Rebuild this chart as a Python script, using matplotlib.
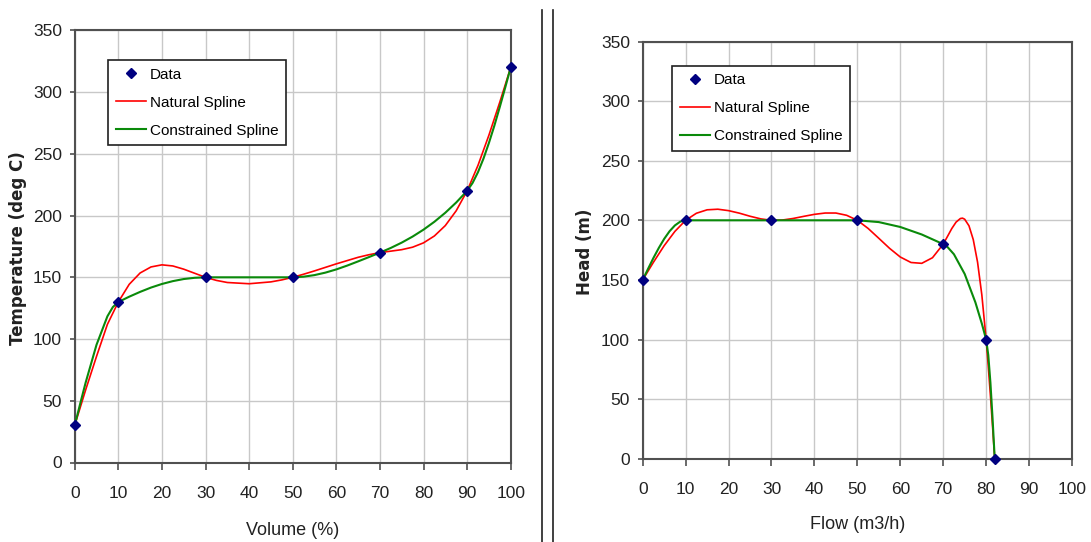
import matplotlib
matplotlib.use("Agg")
import matplotlib.pyplot as plt
from matplotlib import font_manager
from matplotlib.lines import Line2D

# ---------------- data ----------------
vol_data = [0, 10, 30, 50, 70, 90, 100]
temp_data = [30, 130, 150, 150, 170, 220, 320]

vol_nat = [0, 2.5, 5, 7.5, 10, 12.5, 15, 17.5, 20, 22.5, 25, 27.5, 30, 32.5, 35, 40, 45, 47.5,
           50, 52.5, 55, 60, 65, 67.5, 70, 72.5, 75, 77.5, 80, 82.5, 85, 87.5, 90, 92.5, 95, 97.5, 100]
temp_nat = [30, 58.7, 85.9, 111.9, 130, 144.3, 153.5, 158.4, 160.1, 159.2, 156.6, 153.3, 150, 147.5, 145.8,
            144.8, 146.3, 147.9, 150, 152.5, 155.2, 160.9, 166.2, 168.3, 170, 171.2, 172.4, 174.4, 177.9,
            183.5, 191.9, 203.9, 220, 240.7, 265.1, 291.9, 320]

vol_con = [0, 1.25, 2.5, 5, 7.5, 8.75, 10, 12.5, 15, 17.5, 20, 22.5, 25, 27.5, 30, 40, 50, 52.5, 55,
           57.5, 60, 62.5, 65, 67.5, 70, 72.5, 75, 77.5, 80, 82.5, 85, 87.5, 90, 91.25, 92.5, 93.75, 95,
           96.25, 97.5, 98.75, 100]
temp_con = [30, 47.5, 64.6, 95.3, 118.4, 125.9, 130, 134.3, 138.2, 141.7, 144.6, 146.9, 148.6, 149.6, 150,
            150, 150, 150.5, 151.8, 153.8, 156.4, 159.5, 162.9, 166.4, 170, 173.8, 178.1, 183.0, 188.6,
            195.0, 202.3, 210.6, 220, 226.4, 235.2, 246.1, 258.8, 272.8, 288.0, 303.8, 320]

flow_data = [0, 10, 30, 50, 70, 80, 82]
head_data = [150, 200, 200, 200, 180, 100, 0]

flow_nat = [0, 2.5, 5, 7.5, 10, 12.5, 15, 17.5, 20, 22.5, 25, 27.5, 30, 32.5, 35, 37.5, 40, 42.5, 45,
            47.5, 50, 52.5, 55, 57.5, 60, 62.5, 65, 67.5, 70, 71, 72, 73, 74, 74.5, 75, 76, 77, 78, 79,
            80, 80.5, 81, 81.5, 82]
head_nat = [150, 164.8, 178.7, 190.7, 200, 205.9, 208.8, 209.3, 208.1, 206.0, 203.4, 201.2, 200, 200.2,
            201.5, 203.3, 205.0, 206.1, 206.1, 204.2, 200, 193.2, 184.9, 176.5, 169.2, 164.6, 163.9,
            168.6, 180, 186.5, 193.1, 198.5, 201.5, 201.8, 200.9, 195.4, 183.8, 164.9, 137.3, 100,
            77.4, 52.8, 26.7, 0]

flow_con = [0, 1.25, 2.5, 3.75, 5, 6.25, 7.5, 8.75, 10, 30, 50, 55, 60, 65, 70, 71, 72.5, 75, 77.5, 79,
            80, 80.5, 81, 81.5, 82]
head_con = [150, 159.3, 168.4, 176.8, 184.4, 190.8, 195.7, 198.9, 200, 200, 200, 198.5, 194.4, 188.1,
            180, 177.6, 171.5, 155.0, 131.1, 113.3, 100, 86.9, 63.6, 33.5, 0]

x_ticks = list(range(0, 101, 10))
y_ticks = list(range(0, 351, 50))
legend_labels = ["Data", "Natural Spline", "Constrained Spline"]

# ---------------- fonts ----------------
names = {f.name for f in font_manager.fontManager.ttflist}
if "Liberation Sans Narrow" in names:
    FONT = ["Liberation Sans Narrow", "DejaVu Sans"]
    TICK_FS, LEG_FS, XLAB_FS = 14, 13.5, 14.5
else:
    FONT = ["Liberation Sans", "DejaVu Sans"]
    TICK_FS, LEG_FS, XLAB_FS = 12.5, 11, 13
YLAB_FONT = ["DejaVu Sans"]
YLAB_FS = 12

plt.rcParams["font.family"] = FONT

W, H = 1091, 542
fig = plt.figure(figsize=(W / 100, H / 100), dpi=100)


def px_axes(l, r, t, b):
    return [l / W, 1 - b / H, (r - l) / W, (b - t) / H]


SPINE = "#505050"
GRID = "#c8c8c8"
RED = "#ff0000"
GREEN = "#0a8a0a"
NAVY = "#000080"


def make_panel(rect, xd, yd, xn, yn, xc, yc, xlabel, ylabel, ylab_x, leg_anchor):
    ax = fig.add_axes(rect)
    ax.set_xlim(0, 100)
    ax.set_ylim(0, 350)
    ax.set_xticks(x_ticks)
    ax.set_yticks(y_ticks)
    ax.grid(True, color=GRID, lw=1.0, zorder=0)
    ax.set_axisbelow(True)
    for s in ax.spines.values():
        s.set_color(SPINE)
        s.set_linewidth(1.5)
        s.set_zorder(1)
    ax.tick_params(axis="x", direction="out", length=5, width=1.2, color=SPINE,
                   labelsize=TICK_FS, pad=12, labelcolor="#222222")
    ax.tick_params(axis="y", direction="out", length=3.6, width=1.2, color=SPINE,
                   labelsize=TICK_FS, pad=5.5, labelcolor="#222222")
    ax.plot(xn, yn, color=RED, lw=1.2, zorder=3, label=legend_labels[1])
    ax.plot(xc, yc, color=GREEN, lw=1.5, zorder=4, label=legend_labels[2])
    ax.plot(xd, yd, linestyle="none", marker="D", ms=4.6, color=NAVY, mec=NAVY,
            zorder=5, clip_on=False, label=legend_labels[0])
    ax.set_xlabel(xlabel, fontsize=XLAB_FS, color="#222222")
    ax.xaxis.set_label_coords(0.5, -0.157)
    ax.xaxis.label.set_verticalalignment("center")
    ax.set_ylabel(ylabel, fontsize=YLAB_FS, fontweight="bold", family=YLAB_FONT, color="#222222")
    ax.yaxis.set_label_coords(ylab_x, 0.495)
    ax.yaxis.label.set_verticalalignment("center")
    handles, labels = ax.get_legend_handles_labels()
    order = [2, 0, 1]
    leg = ax.legend([handles[i] for i in order], [labels[i] for i in order],
                    loc="upper left", bbox_to_anchor=leg_anchor,
                    bbox_transform=fig.transFigure, borderaxespad=0,
                    fontsize=LEG_FS, frameon=True, fancybox=False, shadow=False,
                    framealpha=1, edgecolor="#202020", handlelength=2.0,
                    handletextpad=0.22, labelspacing=0.92, borderpad=0.5)
    leg.get_frame().set_linewidth(1.2)
    return ax


make_panel(px_axes(74.7, 510.7, 30.4, 462.5), vol_data, temp_data, vol_nat, temp_nat,
           vol_con, temp_con, "Volume (%)", "Temperature (deg C)", -0.1294,
           (108.3 / W, 1 - 60 / H))
make_panel(px_axes(642.7, 1072, 41.5, 458.7), flow_data, head_data, flow_nat, head_nat,
           flow_con, head_con, "Flow (m3/h)", "Head (m)", -0.1344,
           (672 / W, 1 - 65.7 / H))

for xp in (541.7, 552.7):
    fig.add_artist(Line2D([xp / W, xp / W], [0, 1 - 10 / H], transform=fig.transFigure,
                          color="#202020", lw=1.2))

fig.savefig("out.png", dpi=100, facecolor="white")
